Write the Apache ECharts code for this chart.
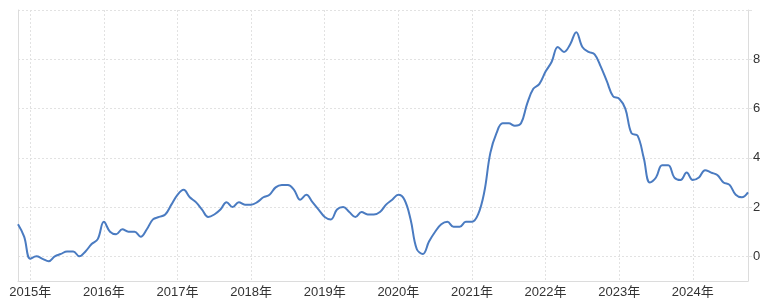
<!DOCTYPE html>
<html>
<head>
<meta charset="utf-8">
<script src="https://cdn.jsdelivr.net/npm/echarts@6/dist/echarts.min.js"></script>
<style>
html,body{margin:0;padding:0;background:#fff;}
#chart{width:768px;height:304px;}
</style>
</head>
<body>
<div id="chart"></div>
<script>
// First month of the series (November 2014), monthly values through October 2024
const startYear = 2014;
const startMonth = 11;
const values = [
  1.3, 0.8,
  -0.1, 0.0, -0.1, -0.2, 0.0, 0.1, 0.2, 0.2, 0.0, 0.2, 0.5, 0.7,
  1.4, 1.0, 0.9, 1.1, 1.0, 1.0, 0.8, 1.1, 1.5, 1.6, 1.7, 2.1,
  2.5, 2.7, 2.4, 2.2, 1.9, 1.6, 1.7, 1.9, 2.2, 2.0, 2.2, 2.1,
  2.1, 2.2, 2.4, 2.5, 2.8, 2.9, 2.9, 2.7, 2.3, 2.5, 2.2, 1.9,
  1.6, 1.5, 1.9, 2.0, 1.8, 1.6, 1.8, 1.7, 1.7, 1.8, 2.1, 2.3,
  2.5, 2.3, 1.5, 0.3, 0.1, 0.6, 1.0, 1.3, 1.4, 1.2, 1.2, 1.4,
  1.4, 1.7, 2.6, 4.2, 5.0, 5.4, 5.4, 5.3, 5.4, 6.2, 6.8, 7.0,
  7.5, 7.9, 8.5, 8.3, 8.6, 9.1, 8.5, 8.3, 8.2, 7.7, 7.1, 6.5,
  6.4, 6.0, 5.0, 4.9, 4.0, 3.0, 3.2, 3.7, 3.7, 3.2, 3.1, 3.4,
  3.1, 3.2, 3.5, 3.4, 3.3, 3.0, 2.9, 2.5, 2.4, 2.6
];
const yearSuffix = '年';
const yLabelValues = [0, 2, 4, 6, 8];
const yGridValues = [0, 2, 4, 6, 8, 10];

// month categories "YYYY-MM"
const categories = [];
for (let i = 0; i < values.length; i++) {
  const m0 = startMonth - 1 + i;
  const y = startYear + Math.floor(m0 / 12);
  const m = (m0 % 12) + 1;
  categories.push(y + '-' + (m < 10 ? '0' + m : m));
}
const isJan = (idx, val) => String(val).slice(5) === '01';

const FONT = "'Liberation Sans', 'Noto Sans CJK SC', sans-serif";
const GRID = '#e2e2e2';
const AXIS = '#dcdcdc';
const chart = echarts.init(document.getElementById('chart'), null, {renderer: 'canvas'});
chart.setOption({
  animation: false,
  backgroundColor: '#ffffff',
  grid: {left: 18, right: 20, top: 10, bottom: 23, containLabel: false},
  xAxis: {
    type: 'category',
    data: categories,
    boundaryGap: false,
    axisLine: {show: true, onZero: false, lineStyle: {color: AXIS, width: 1}},
    axisTick: {show: false, interval: isJan},
    axisLabel: {
      interval: isJan,
      formatter: v => v.slice(0, 4) + yearSuffix,
      color: '#333333', fontSize: 13, fontFamily: FONT, margin: 5
    },
    splitLine: {show: true, interval: isJan, lineStyle: {color: GRID, type: [2, 2], width: 1}}
  },
  yAxis: [{
    type: 'value',
    position: 'right',
    min: -1, max: 10,
    axisLine: {show: true, lineStyle: {color: AXIS, width: 1}},
    axisTick: {show: true, length: 4, customValues: yGridValues, lineStyle: {color: GRID}},
    axisLabel: {
      customValues: yLabelValues,
      color: '#333333', fontSize: 13, fontFamily: FONT, margin: 5
    },
    splitLine: {show: true, lineStyle: {color: GRID, type: [2, 2], width: 1}}
  }, {
    type: 'value',
    position: 'left',
    min: -1, max: 10,
    axisLine: {show: true, lineStyle: {color: AXIS, width: 1}},
    axisTick: {show: false},
    axisLabel: {show: false},
    splitLine: {show: false}
  }],
  series: [{
    type: 'line',
    data: values,
    yAxisIndex: 0,
    smooth: 0.4,
    symbol: 'none',
    lineStyle: {color: '#4a7bc1', width: 2},
    itemStyle: {color: '#4a7bc1'}
  }]
});
</script>
</body>
</html>
